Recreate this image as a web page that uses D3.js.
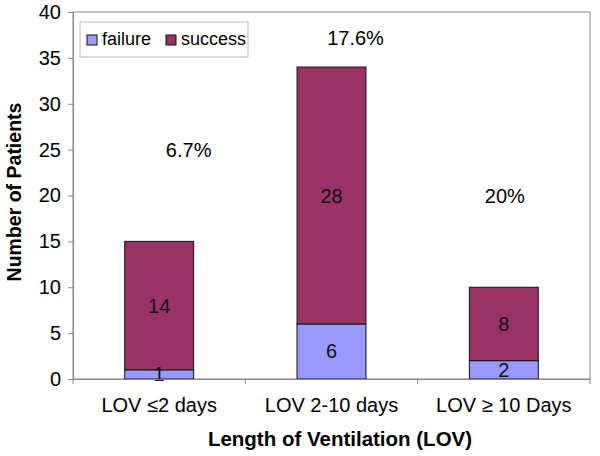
<!DOCTYPE html>
<html><head><meta charset="utf-8">
<script src="https://cdn.jsdelivr.net/npm/d3@7"></script>
<style>body{margin:0;background:#fff}svg{display:block;font-family:"Liberation Sans",Arial,sans-serif}</style>
</head><body><div id="chart"></div>
<script>
const categories = ["LOV \u22642 days", "LOV 2-10 days", "LOV \u2265 10 Days"];
const failure = [1, 6, 2];
const success = [14, 28, 8];
const percents = ["6.7%", "17.6%", "20%"];
const percentY = [24.2, 36.4, 19.2];
const yTicks = [0, 5, 10, 15, 20, 25, 30, 35, 40];
const seriesNames = ["failure", "success"];
const colors = ["#9999FF", "#993366"];

const W = 600, H = 456;
const m = {left: 73, right: 10, top: 12, bottom: 77};
const svg = d3.select("#chart").append("svg").attr("width", W).attr("height", H);

const x = d3.scaleBand().domain(categories).range([m.left, W - m.right]).paddingInner(0.6).paddingOuter(0.3);
const y = d3.scaleLinear().domain([0, 40]).range([H - m.bottom, m.top]);

// plot border
svg.append("rect").attr("x", m.left).attr("y", m.top)
  .attr("width", W - m.right - m.left).attr("height", H - m.bottom - m.top)
  .attr("fill", "none").attr("stroke", "#888").attr("stroke-width", 1);

const rows = categories.map((c, i) => ({cat: c, failure: failure[i], success: success[i]}));
const stack = d3.stack().keys(seriesNames)(rows);

stack.forEach((s, si) => {
  svg.append("g").selectAll("rect").data(s).join("rect")
    .attr("x", d => x(d.data.cat)).attr("width", x.bandwidth())
    .attr("y", d => y(d[1])).attr("height", d => y(d[0]) - y(d[1]))
    .attr("fill", colors[si]).attr("stroke", "#111").attr("stroke-width", 1);
});
stack.forEach((s, si) => {
  svg.append("g").selectAll("text").data(s).join("text")
    .attr("x", d => x(d.data.cat) + x.bandwidth() / 2)
    .attr("y", d => (y(d[0]) + y(d[1])) / 2 + 7)
    .attr("text-anchor", "middle").attr("font-size", 20).attr("fill", "#111")
    .text(d => d[1] - d[0]);
});

// y axis
const ya = svg.append("g").attr("transform", `translate(${m.left},0)`)
  .call(d3.axisLeft(y).tickValues(yTicks).tickSize(5).tickPadding(7));
ya.select(".domain").attr("stroke", "#888");
ya.selectAll(".tick line").attr("stroke", "#888");
ya.selectAll(".tick text").attr("font-size", 20).attr("fill", "#000").attr("font-family", "Liberation Sans, Arial, sans-serif");

// x axis
const xa = svg.append("g").attr("transform", `translate(0,${H - m.bottom})`)
  .call(d3.axisBottom(x).tickSize(0).tickPadding(19));
xa.select(".domain").attr("stroke", "#888");
xa.selectAll(".tick text").attr("font-size", 20).attr("fill", "#000").attr("font-family", "Liberation Sans, Arial, sans-serif");
// category separators
const step = x.step();
[0, 1, 2, 3].forEach(k => {
  const xx = m.left + step * k;
  svg.append("line").attr("x1", xx).attr("x2", xx).attr("y1", H - m.bottom).attr("y2", H - m.bottom + 5).attr("stroke", "#888");
});

// percentages
svg.append("g").selectAll("text").data(percents).join("text")
  .attr("x", (d, i) => x(categories[i]) + x.bandwidth() / 2 + [29.5, 24, 1][i])
  .attr("y", (d, i) => y(percentY[i]))
  .attr("text-anchor", "middle").attr("font-size", 20).attr("fill", "#000").text(d => d);

// axis titles
svg.append("text").attr("x", 340).attr("y", 446)
  .attr("text-anchor", "middle").attr("font-size", 20.5).attr("font-weight", "bold").text("Length of Ventilation (LOV)");
svg.append("text").attr("transform", `translate(21,192) rotate(-90)`)
  .attr("text-anchor", "middle").attr("font-size", 19.5).attr("font-weight", "bold").text("Number of Patients");

// legend
const lg = svg.append("g").attr("transform", "translate(80,22)");
lg.append("rect").attr("width", 168).attr("height", 35).attr("fill", "#fff").attr("stroke", "#bbb");
const items = [{n: "failure", x: 7}, {n: "success", x: 86}];
items.forEach((it, i) => {
  lg.append("rect").attr("x", it.x).attr("y", 13).attr("width", 10).attr("height", 10)
    .attr("fill", colors[i]).attr("stroke", "#111");
  lg.append("text").attr("x", it.x + 15).attr("y", 23).attr("font-size", 18).text(it.n);
});
</script></body></html>
